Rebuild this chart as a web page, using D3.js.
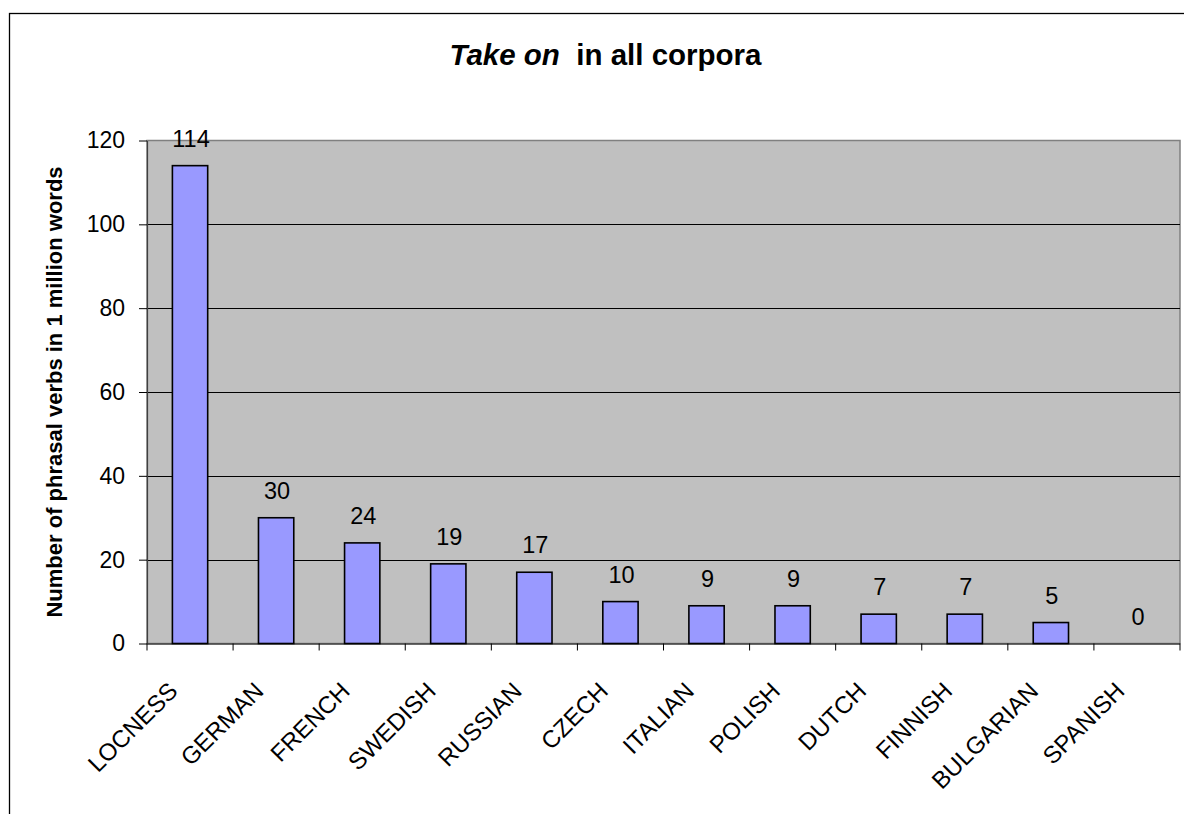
<!DOCTYPE html>
<html>
<head>
<meta charset="utf-8">
<script src="https://cdn.jsdelivr.net/npm/d3@7"></script>
<style>
  html, body { margin: 0; padding: 0; background: #fff; }
  svg { display: block; font-family: "Liberation Sans", Arial, sans-serif; }
</style>
</head>
<body>
<svg id="chart" width="1184" height="814"></svg>
<script>
// Frequency of "take on" per million words in each corpus
const categories = ["LOCNESS", "GERMAN", "FRENCH", "SWEDISH", "RUSSIAN", "CZECH",
                    "ITALIAN", "POLISH", "DUTCH", "FINNISH", "BULGARIAN", "SPANISH"];
const values = [114, 30, 24, 19, 17, 10, 9, 9, 7, 7, 5, 0];
const yTicks = [0, 20, 40, 60, 80, 100, 120];

const svg = d3.select("#chart");

// Outer chart border (runs off the right and bottom of the page)
svg.append("rect")
  .attr("x", 9.5).attr("y", 13.5)
  .attr("width", 1192).attr("height", 900)
  .attr("fill", "#fff").attr("stroke", "#000").attr("stroke-width", 1.3);

const plot = { left: 147, right: 1180, top: 140.5, bottom: 643.5 };

const x = d3.scaleBand()
  .domain(categories)
  .range([plot.left, plot.right])
  .paddingInner(0.59)
  .paddingOuter(0.295);

const y = d3.scaleLinear()
  .domain([0, 120])
  .range([plot.bottom, plot.top]);

// Plot area background
svg.append("rect")
  .attr("x", plot.left).attr("y", plot.top)
  .attr("width", plot.right - plot.left).attr("height", plot.bottom - plot.top)
  .attr("fill", "#c0c0c0")
  .attr("stroke", "#808080").attr("stroke-width", 1.5);

// Horizontal gridlines
svg.append("g")
  .selectAll("line")
  .data(yTicks.filter(d => d > 0 && d < 120))
  .join("line")
  .attr("x1", plot.left).attr("x2", plot.right)
  .attr("y1", d => Math.round(y(d)) + 0.5).attr("y2", d => Math.round(y(d)) + 0.5)
  .attr("stroke", "#000").attr("stroke-width", 1);

// Y axis
const yAxis = svg.append("g")
  .attr("transform", `translate(${plot.left},0)`)
  .call(d3.axisLeft(y).tickValues(yTicks).tickSize(8).tickPadding(14).tickSizeOuter(0));
yAxis.select(".domain").attr("stroke", "#404040").attr("stroke-width", 1.2);
yAxis.selectAll(".tick line").attr("stroke", "#000");
yAxis.selectAll(".tick text")
  .attr("font-size", 23).attr("fill", "#000")
  .attr("font-family", "Liberation Sans, Arial, sans-serif");

// X axis: ticks fall between categories
const xAxisG = svg.append("g").attr("transform", `translate(0,${plot.bottom})`);
xAxisG.append("line")
  .attr("x1", plot.left).attr("x2", plot.right)
  .attr("y1", 0.5).attr("y2", 0.5)
  .attr("stroke", "#404040").attr("stroke-width", 1.5);
const step = x.step();
const boundaries = d3.range(categories.length + 1).map(i => plot.left + i * step);
xAxisG.selectAll("line.tk")
  .data(boundaries)
  .join("line").attr("class", "tk")
  .attr("x1", d => d).attr("x2", d => d)
  .attr("y1", 0).attr("y2", 7)
  .attr("stroke", "#000").attr("stroke-width", 1);

// Category labels, rotated
xAxisG.selectAll("text.cat")
  .data(categories)
  .join("text").attr("class", "cat")
  .attr("transform", d => `translate(${x(d) + x.bandwidth() / 2 - 11},49) rotate(-45)`)
  .attr("text-anchor", "end")
  .attr("font-size", 24)
  .text(d => d);

// Bars
svg.append("g")
  .selectAll("rect")
  .data(values)
  .join("rect")
  .attr("x", (d, i) => x(categories[i]))
  .attr("y", d => y(d))
  .attr("width", x.bandwidth())
  .attr("height", d => y(0) - y(d))
  .attr("fill", "#9999ff")
  .attr("stroke", "#000").attr("stroke-width", 1.6)
  .attr("display", d => d > 0 ? null : "none");

// Value labels
svg.append("g")
  .selectAll("text")
  .data(values)
  .join("text")
  .attr("x", (d, i) => x(categories[i]) + x.bandwidth() / 2 + 1)
  .attr("y", d => y(d) - 19)
  .attr("text-anchor", "middle")
  .attr("font-size", 23.5)
  .text(d => d);

// Y axis title
svg.append("text")
  .attr("transform", `translate(62,392) rotate(-90)`)
  .attr("text-anchor", "middle")
  .attr("font-size", 22)
  .attr("font-weight", "bold")
  .text("Number of phrasal verbs in 1 million words");

// Title
const title = svg.append("text")
  .attr("x", 605.5).attr("y", 65)
  .attr("text-anchor", "middle")
  .attr("font-size", 29.5)
  .attr("font-weight", "bold")
  .style("white-space", "pre");
title.append("tspan").attr("font-style", "italic").text("Take on");
title.append("tspan").text("  in all corpora");
</script>
</body>
</html>
